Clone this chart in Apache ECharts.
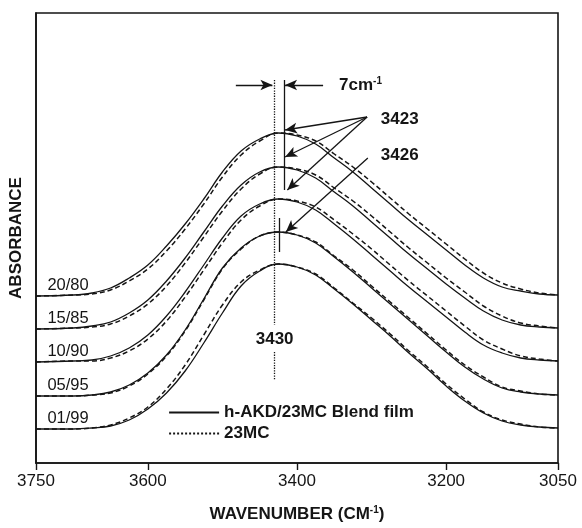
<!DOCTYPE html>
<html>
<head>
<meta charset="utf-8">
<script src="https://cdn.jsdelivr.net/npm/echarts@6/dist/echarts.min.js"></script>
<style>
html,body{margin:0;padding:0;background:#fff;}
#main{width:582px;height:528px;}
</style>
</head>
<body>
<div id="main"></div>
<script>
// 波数（横轴取样点）
var WN = [3750,3700,3675,3650,3625,3600,3575,3550,3525,3500,3475,3450,3425,3400,3375,3350,3325,3300,3275,3250,3225,3200,3175,3150,3125,3100,3075,3050];
var TICKS = [3750,3600,3400,3200,3050];
var RATIOS = ['20/80','15/85','10/90','05/95','01/99'];
var BASES = [167,134,101,67,34];

// 共混膜（实线）
var BLEND_2080 = [167,168,170,175,185,198,217,239,264,291,312,324,330,327,319,305,291,275,259,243,228,213,198,185,176,172,169,168];
var BLEND_1585 = [134,135,137,141,150,163,182,205,231,257,278,291,296,293,285,271,257,241,225,209,194,179,165,152,143,138,136,135];
var BLEND_1090 = [101,102,103,107,115,128,147,171,198,225,247,259,264,261,253,239,224,208,192,176,161,146,131,118,110,105,103,102];
var BLEND_0595 = [67,67,68,71,78,90,108,133,164,195,215,227,231,228,220,206,191,175,159,143,127,111,96,84,75,71,69,68];
var BLEND_0199 = [34,34,35,37,43,54,70,92,120,150,177,192,199,196,188,174,159,143,127,110,94,77,62,50,42,38,36,35];
// 23MC（虚线）
var MC_2080 = [167,168,169,173,182,194,212,234,259,286,308,322,330,328,322,309,296,281,265,249,234,219,204,190,180,174,170,168];
var MC_1585 = [134,135,136,139,147,159,177,200,226,252,274,289,296,294,288,275,262,247,231,215,200,185,171,157,147,140,137,135];
var MC_1090 = [101,102,102,105,112,124,142,166,193,220,243,257,264,262,256,243,229,214,198,182,167,152,137,123,114,107,104,102];
var MC_0595 = [67,67,68,70,77,89,107,132,163,194,214,227,231,228,221,207,193,177,161,145,129,113,98,86,76,72,69,68];
var MC_0199 = [34,34,35,38,45,56,74,98,128,158,181,193,199,196,189,175,160,145,129,112,96,79,64,51,43,39,36,35];

var BLEND = [BLEND_2080,BLEND_1585,BLEND_1090,BLEND_0595,BLEND_0199];
var MC = [MC_2080,MC_1585,MC_1090,MC_0595,MC_0199];

var INK = '#151515';
var FONT = '"Liberation Sans", Arial, sans-serif';

function pairs(arr){
    return arr.map(function(v, i){ return [WN[i], v]; });
}

var series = [];
for (var i = 0; i < BLEND.length; i++) {
    series.push({
        name: 'h-AKD/23MC Blend film',
        type: 'line',
        data: pairs(BLEND[i]),
        smooth: 0.4,
        symbol: 'none',
        silent: true,
        itemStyle: {color: INK},
        lineStyle: {color: INK, width: 1.3},
        markPoint: {
            symbol: 'rect', symbolSize: 1,
            itemStyle: {color: 'rgba(0,0,0,0)'},
            label: {show: true, position: 'top', distance: 2, formatter: RATIOS[i],
                color: INK, fontFamily: FONT, fontSize: 16.5},
            data: [{coord: [3707, BASES[i]]}]
        }
    });
    series.push({
        name: '23MC',
        type: 'line',
        data: pairs(MC[i]),
        smooth: 0.4,
        symbol: 'none',
        silent: true,
        itemStyle: {color: INK},
        lineStyle: {color: INK, width: 1.5, type: [5, 3]}
    });
}

// 注释：竖线、箭头、文字
function seg(x1, y1, x2, y2, type, arrow){
    return [
        {coord: [x1, y1], symbol: 'none', lineStyle: {type: type}},
        {coord: [x2, y2], symbol: arrow ? 'arrow' : 'none'}
    ];
}
function txt(x, y, rich, pos){
    return {coord: [x, y], label: {formatter: rich, position: pos || 'right'}};
}
series.push({
    name: 'notes',
    type: 'line',
    data: [],
    silent: true,
    markLine: {
        silent: true,
        symbolSize: [8, 12],
        label: {show: false},
        lineStyle: {color: INK, width: 1.3},
        data: [
            seg(3430, 383, 3430, 138, 'dotted'),
            seg(3430, 111, 3430, 83, 'dotted'),
            seg(3417, 383, 3417, 273, 'solid'),
            seg(3424, 245, 3424, 211, 'solid'),
            seg(3482, 378, 3433, 378, 'solid', true),
            seg(3365, 378, 3416, 378, 'solid', true),
            seg(3306, 346, 3416, 333, 'solid', true),
            seg(3306, 346, 3416, 306, 'solid', true),
            seg(3306, 346, 3413, 273, 'solid', true),
            seg(3305, 305, 3415, 231, 'solid', true)
        ]
    },
    markPoint: {
        symbol: 'rect', symbolSize: 1,
        itemStyle: {color: 'rgba(0,0,0,0)'},
        label: {
            show: true, color: INK, fontFamily: FONT, fontSize: 17, fontWeight: 'bold',
            rich: {
                b: {fontFamily: FONT, fontSize: 17, fontWeight: 'bold', color: INK},
                s: {fontFamily: FONT, fontSize: 10, fontWeight: 'bold', color: INK, verticalAlign: 'top', padding: [0, 0, 8, 0]}
            }
        },
        data: [
            txt(3351, 378, '{b|7cm}{s|-1}'),
            txt(3295, 344, '{b|3423}'),
            txt(3295, 308, '{b|3426}'),
            txt(3430, 124, '{b|3430}', 'inside')
        ]
    }
});

var chart = echarts.init(document.getElementById('main'), null, {renderer: 'canvas'});
chart.setOption({
    animation: false,
    backgroundColor: '#fff',
    grid: {left: 36, right: 24, top: 13, bottom: 65, show: true, borderColor: INK, borderWidth: 1.6},
    legend: {
        orient: 'vertical',
        left: 163, top: 399,
        itemWidth: 50, itemHeight: 14, itemGap: 4,
        selectedMode: false,
        textStyle: {color: INK, fontFamily: FONT, fontSize: 17, fontWeight: 'bold'},
        data: [
            {name: 'h-AKD/23MC Blend film', itemStyle: {opacity: 0}, lineStyle: {type: 'solid', width: 2.2, color: INK}},
            {name: '23MC', itemStyle: {opacity: 0}, lineStyle: {type: 'dotted', width: 2, color: INK}}
        ]
    },
    xAxis: {
        type: 'value',
        min: 3050, max: 3750, interval: 50,
        inverse: true,
        name: 'WAVENUMBER (CM{s|-1})',
        nameLocation: 'middle',
        nameGap: 42,
        nameTextStyle: {
            color: INK, fontFamily: FONT, fontSize: 17, fontWeight: 'bold',
            rich: {s: {fontFamily: FONT, fontSize: 10, fontWeight: 'bold', color: INK, verticalAlign: 'top', padding: [0, 0, 8, 0]}}
        },
        axisLine: {lineStyle: {color: INK, width: 1.6}},
        axisTick: {show: true, length: 7, customValues: TICKS, lineStyle: {color: INK, width: 1.4}},
        axisLabel: {
            customValues: TICKS, color: INK, fontFamily: FONT, fontSize: 17, margin: 10,
            formatter: function(v){ return String(v); }
        },
        splitLine: {show: false}
    },
    yAxis: {
        type: 'value',
        min: 0, max: 450,
        name: 'ABSORBANCE',
        nameLocation: 'middle',
        nameGap: 11,
        nameTextStyle: {color: INK, fontFamily: FONT, fontSize: 17, fontWeight: 'bold'},
        axisLine: {show: true, lineStyle: {color: INK, width: 1.6}},
        axisTick: {show: false},
        axisLabel: {show: false},
        splitLine: {show: false}
    },
    series: series
});
</script>
</body>
</html>
